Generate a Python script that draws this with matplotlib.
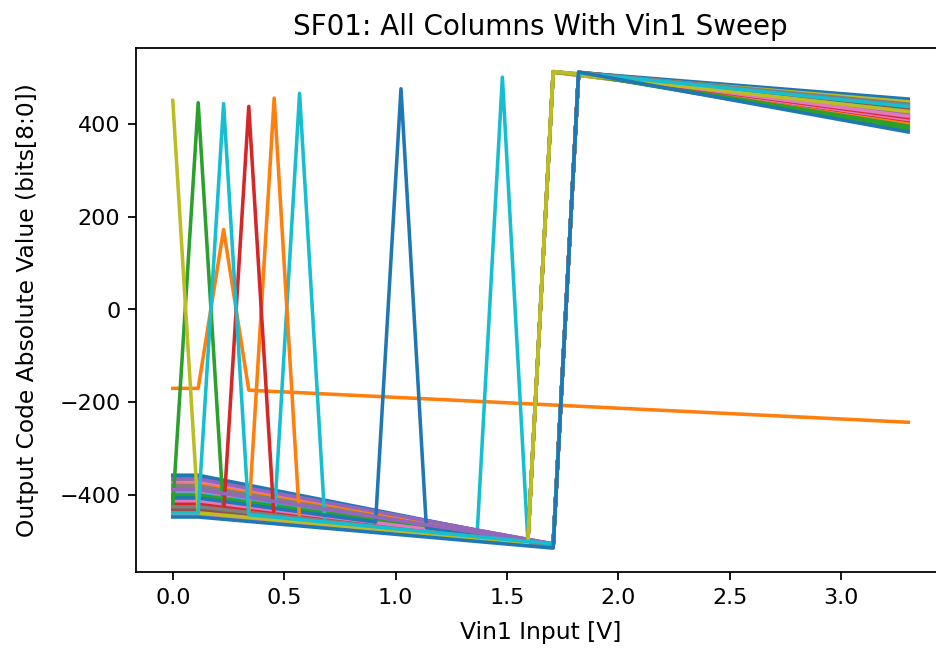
import matplotlib
matplotlib.use("Agg")
import matplotlib.pyplot as plt

# Vin1 sweep points (V), 30 steps from 0 to 3.3 V
vin1 = [0.000, 0.114, 0.228, 0.341, 0.455, 0.569, 0.683, 0.797, 0.910, 1.024,
        1.138, 1.252, 1.366, 1.479, 1.593, 1.707, 1.821, 1.934, 2.048, 2.162,
        2.276, 2.390, 2.503, 2.617, 2.731, 2.845, 2.959, 3.072, 3.186, 3.300]

# per column readings (codes) at the points where the trace changes slope
# start: Vin1 = 0 and 0.114 V, low: last sample before the jump,
# high: first sample after the jump, end: Vin1 = 3.3 V
col_start = [-380, None, -368, -392, -385, -400, -372, -405, -420, -415,
             -362, -427, -440, -390, -415, -420, -395, -410, -428, -398,
             -357, -377, -400, -418, -365, -440, -412, -380, -443, -432,
             -406, -433, -425, -433, -388, -430, -445, -425, -438, -438,
             -447]
col_low = [-506, None, -505, -508, -506, -503, -505, -502, -502, -506,
           -507, -505, -505, -506, -507, -503, -506, -502, -502, -505,
           -508, -506, -507, -508, -505, -504, -507, -502, -503, -507,
           -510, -505, -505, -508, -506, -508, -509, -509, -503, -505,
           -514]
col_high = [509, None, 508, 510, 509, 511, 509, 511, 511, 509,
            510, 508, 508, 509, 508, 512, 509, 511, 511, 509,
            510, 509, 508, 509, 509, 512, 509, 511, 512, 509,
            510, 508, 508, 509, 509, 511, 509, 510, 512, 509,
            511]
col_end = [440, None, 425, 410, 418, 415, 405, 430, 420, 435,
           445, 397, 392, 402, 425, 440, 412, 445, 418, 423,
           453, 400, 388, 407, 432, 428, 409, 438, 447, 428,
           436, 397, 395, 413, 421, 434, 416, 442, 426, 437,
           382]
col_jump = [16, None, 16, 16, 16, 15, 16, 15, 15, 16,
            16, 16, 16, 16, 16, 15, 16, 15, 15, 16,
            16, 16, 16, 16, 16, 15, 16, 15, 15, 16,
            16, 16, 16, 16, 16, 16, 16, 16, 15, 16,
            16]

# columns with a single glitch sample
spike_col = [38, 32, 39, 33, 31, 29, 30, 19]
spike_at = [0, 1, 2, 3, 4, 5, 9, 13]
spike_code = [450, 445, 443, 437, 455, 465, 475, 500]
spike_left = [None, -425, -438, -438, -443, -453, -458, -481]
spike_right = [-438, -438, -442, -453, -453, -460, -470, -496]

# dead column
dead_col = 1
dead_idx = [0, 1, 2, 3, 29]
dead_code = [-170, -170, 172, -174, -243]

fig = plt.figure(figsize=(5.85, 4.07), dpi=160)
ax = fig.add_axes([0.1453, 0.1214, 0.8643, 0.8049])

last = len(vin1) - 1
for col in range(len(col_start)):
    if col == dead_col:
        xs = [vin1[i] for i in dead_idx]
        ax.plot(xs, dead_code, lw=1.6)
        continue
    j = col_jump[col]
    pts = {0: col_start[col], 1: col_start[col], j - 1: col_low[col],
           j: col_high[col], last: col_end[col]}
    if col in spike_col:
        k = spike_col.index(col)
        s = spike_at[k]
        if s > 0:
            pts[s - 1] = spike_left[k]
        pts[s] = spike_code[k]
        pts[s + 1] = spike_right[k]
    idx = sorted(pts)
    ax.plot([vin1[i] for i in idx], [pts[i] for i in idx], lw=1.6)

ax.set_title("SF01: All Columns With Vin1 Sweep", fontsize=12.5)
ax.set_xlabel("Vin1 Input [V]", fontsize=10.5, labelpad=6)
ax.set_ylabel("Output Code Absolute Value (bits[8:0])", fontsize=10.5,
              labelpad=9)

fig.savefig("out.png", dpi=160)
